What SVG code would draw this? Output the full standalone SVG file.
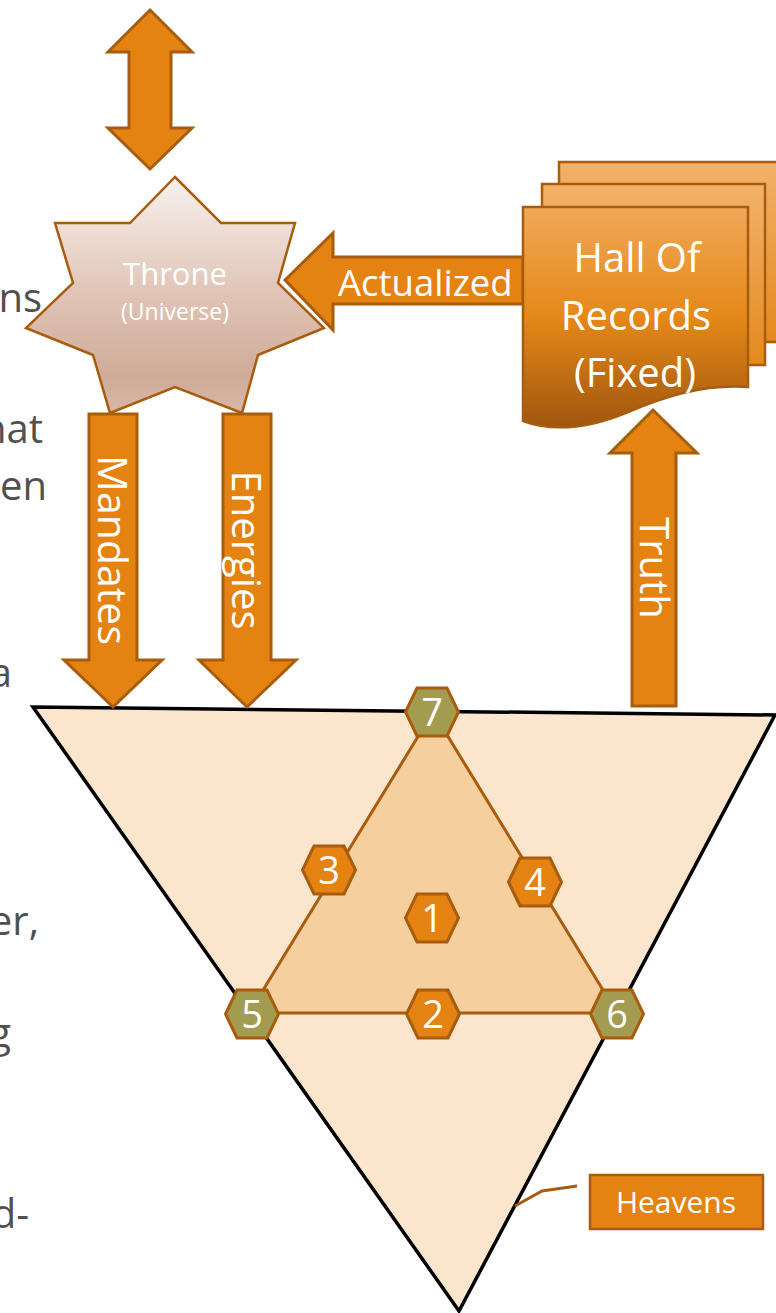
<svg xmlns="http://www.w3.org/2000/svg" xmlns:xlink="http://www.w3.org/1999/xlink" width="776" height="1313" viewBox="0 0 776 1313">
<defs>
<linearGradient id="starGrad" x1="0" y1="0" x2="0" y2="1">
<stop offset="0" stop-color="#f7f1ee"/>
<stop offset="0.5" stop-color="#e0c4b6"/>
<stop offset="0.85" stop-color="#cfab98"/>
<stop offset="1" stop-color="#d8b8a8"/>
</linearGradient>
<linearGradient id="docGrad" x1="0" y1="0" x2="0" y2="1">
<stop offset="0" stop-color="#f0a858"/>
<stop offset="0.5" stop-color="#e58818"/>
<stop offset="1" stop-color="#a0560f"/>
</linearGradient>
<linearGradient id="docGradBack" x1="0" y1="0" x2="0" y2="1">
<stop offset="0" stop-color="#f3b26a"/>
<stop offset="1" stop-color="#e4891d"/>
</linearGradient>
<path id="hex" d="M-26.5,0 L-15,-24 L15,-24 L26.5,0 L15,24 L-15,24 Z"/>
</defs>
<style>
.arrow{fill:#e48312;stroke:#a85c0e;stroke-width:3;stroke-linejoin:miter}
.halo{fill:none;stroke:#ffffff;stroke-width:7;stroke-linejoin:miter}
.lbl{font-family:"Open Sans","Liberation Sans",sans-serif;fill:#ffffff}
.body{font-family:"Open Sans","Liberation Sans",sans-serif;fill:#505050;font-size:40px;text-anchor:end}
.hexo{fill:#e48312;stroke:#a85c0e;stroke-width:3}
.hexg{fill:#a39c50;stroke:#a85c0e;stroke-width:3}
.num{font-family:"Open Sans","Liberation Sans",sans-serif;fill:#ffffff;font-size:38px;text-anchor:middle}
</style>
<rect x="0" y="0" width="776" height="1313" fill="#ffffff"/>

<g id="body-text">
<text class="body" x="42" y="312">ns</text>
<text class="body" x="43" y="443">hat</text>
<text class="body" x="47" y="500">en</text>
<text class="body" x="12" y="687">a</text>
<text class="body" x="39" y="935">er,</text>
<text class="body" x="11" y="1047">g</text>
<text class="body" x="29" y="1228">d-</text>
</g>

<g id="heavens-triangle">
<polygon points="33,707 775,715 459,1311" fill="#fbe5cd" stroke="#000000" stroke-width="3.5" stroke-linejoin="miter"/>
</g>

<g id="inner-triangle">
<polygon points="433,712 249,1013 617,1013" fill="#f6cf9f" stroke="#a85c0e" stroke-width="3"/>
</g>

<g id="connectors">
<g id="arrow-top">
<polygon class="arrow" points="150,10 192,52 171,52 171,128 192,128 150,169 108,128 129,128 129,52 108,52"/>
</g>
<g id="arrow-mandates">
<polygon class="arrow" points="89,414 137,414 137,660 162,660 113,707 64,660 89,660"/>
<text class="lbl" font-size="41" text-anchor="middle" transform="translate(98,550) rotate(90)">Mandates</text>
</g>
<g id="arrow-energies">
<polygon class="arrow" points="223,414 271,414 271,660 296,660 247,707 199,660 223,660"/>
<text class="lbl" font-size="40" text-anchor="middle" transform="translate(232,550) rotate(90)">Energies</text>
</g>
<g id="arrow-truth">
<polygon class="arrow" points="653,410 697,453 676,453 676,706 632,706 632,453 610,453"/>
<text class="lbl" font-size="40" text-anchor="middle" transform="translate(640,568) rotate(90)">Truth</text>
</g>
<g id="leader">
<polyline points="577,1186 542,1191 515,1206" fill="none" stroke="#a85c0e" stroke-width="3"/>
</g>
</g>

<g id="throne">
<polygon points="175,177 221,223 295,223 278,283 324,328 258,355 242,413 175,387 110,413 93,355 26,328 73,283 55,223 130,223" fill="url(#starGrad)" stroke="#a85c0e" stroke-width="2.5"/>
<text class="lbl" font-size="31" text-anchor="middle" x="175" y="285">Throne</text>
<text class="lbl" font-size="23" text-anchor="middle" x="175" y="320">(Universe)</text>
</g>

<g id="arrow-actualized">
<polygon class="halo" points="285,280 333,233 333,257 523,257 523,304 333,304 333,330"/>
<polygon class="arrow" points="285,280 333,233 333,257 523,257 523,304 333,304 333,330"/>
<text class="lbl" font-size="36.5" x="338" y="296">Actualized</text>
</g>

<g id="hall-of-records">
<rect x="559" y="162" width="240" height="180" fill="url(#docGradBack)" stroke="#a85c0e" stroke-width="2.5"/>
<rect x="542" y="184" width="223" height="181" fill="url(#docGradBack)" stroke="#a85c0e" stroke-width="2.5"/>
<path d="M523,207 L748,207 L748,387 C700,384 662,398 628,412 C592,427 556,433 523,421 Z" fill="url(#docGrad)" stroke="#a85c0e" stroke-width="2.5"/>
<text class="lbl" font-size="40" text-anchor="middle" x="637" y="272">Hall Of</text>
<text class="lbl" font-size="40" text-anchor="middle" x="636" y="330">Records</text>
<text class="lbl" font-size="40" text-anchor="middle" x="635" y="387">(Fixed)</text>
</g>

<g id="hex-1"><use xlink:href="#hex" class="hexo" x="432" y="918"/><text class="num" x="432" y="931.5">1</text></g>
<g id="hex-2"><use xlink:href="#hex" class="hexo" x="433" y="1014"/><text class="num" x="433" y="1027.5">2</text></g>
<g id="hex-3"><use xlink:href="#hex" class="hexo" x="329" y="870"/><text class="num" x="329" y="883.5">3</text></g>
<g id="hex-4"><use xlink:href="#hex" class="hexo" x="535" y="882"/><text class="num" x="535" y="895.5">4</text></g>
<g id="hex-5"><use xlink:href="#hex" class="hexg" x="252" y="1014"/><text class="num" x="252" y="1027.5">5</text></g>
<g id="hex-6"><use xlink:href="#hex" class="hexg" x="617" y="1014"/><text class="num" x="617" y="1027.5">6</text></g>
<g id="hex-7"><use xlink:href="#hex" class="hexg" x="432" y="712"/><text class="num" x="432" y="725.5">7</text></g>

<g id="heavens-label">
<rect x="590" y="1175" width="173" height="54" fill="#e48312" stroke="#a85c0e" stroke-width="2.5"/>
<text class="lbl" font-size="30" text-anchor="middle" x="676" y="1213">Heavens</text>
</g>
</svg>
